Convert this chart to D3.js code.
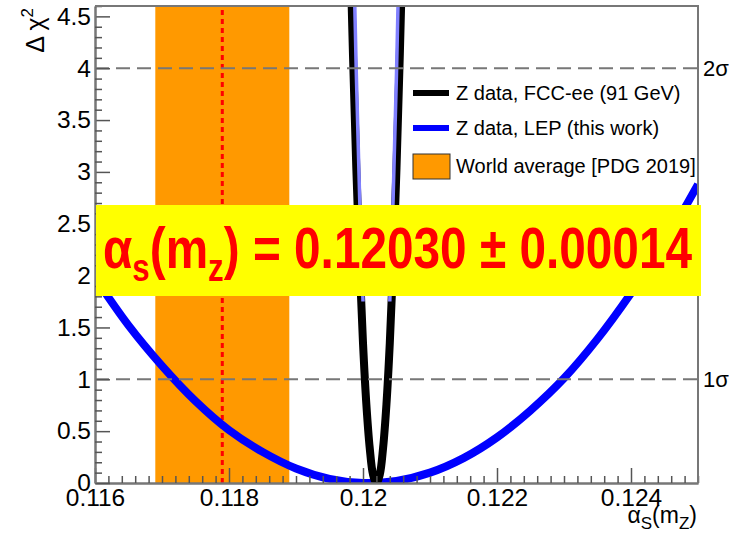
<!DOCTYPE html>
<html><head><meta charset="utf-8">
<script src="https://cdn.jsdelivr.net/npm/d3@7"></script>
<style>body{margin:0;background:#fff}svg{display:block}</style>
</head><body>
<svg id="c" width="729" height="541"></svg>
<script>
// ---- data ----
const xMajor = [0.116, 0.118, 0.120, 0.122, 0.124];
const xLabels = ["0.116", "0.118", "0.12", "0.122", "0.124"];
const yMajor = [0, 0.5, 1, 1.5, 2, 2.5, 3, 3.5, 4, 4.5];
const yLabels = ["0", "0.5", "1", "1.5", "2", "2.5", "3", "3.5", "4", "4.5"];
const sigmaLevels = [1, 4];
const sigmaLabels = ["1σ", "2σ"];
const worldAvg = 0.1179;
const worldAvgErr = 0.0010;
const lepX = [0.1160,0.1165,0.1170,0.1175,0.1180,0.1185,0.1190,0.1195,0.1200,0.1205,0.1210,0.1215,0.1220,0.1225,0.1230,0.1235,0.1240,0.1245,0.1250];
const lepChi2 = [1.98,1.52,1.13,0.79,0.51,0.30,0.14,0.04,0.00,0.02,0.10,0.24,0.44,0.70,1.01,1.39,1.83,2.32,2.88];
const fccX = [0.11980,0.11985,0.11990,0.11995,0.12000,0.12005,0.12010,0.12015,0.12020,0.12025,0.12030,0.12035,0.12040,0.12045,0.12050,0.12055,0.12060];
const fccChi2 = [5.41,4.14,3.04,2.11,1.35,0.76,0.34,0.08,0.00,0.08,0.34,0.76,1.35,2.11,3.04,4.14,5.41];
const innerLeftX = [0.11980,0.11985,0.11990,0.11995,0.12000];
const innerLeftChi2 = [7.00,5.40,3.95,2.75,1.75];
const innerRightX = [0.12040,0.12045,0.12050,0.12055,0.12060];
const innerRightChi2 = [1.75,2.75,3.95,5.40,7.00];
const legendLabels = ["Z data, FCC-ee (91 GeV)", "Z data, LEP (this work)", "World average [PDG 2019]"];
const resultValue = "0.12030";
const resultError = "0.00014";

// ---- chart ----
const svg = d3.select("#c");
const FONT = "'Liberation Sans', Arial, Helvetica, sans-serif";
const x = d3.scaleLinear().domain([0.116, 0.125]).range([95, 698]);
const y = d3.scaleLinear().domain([0, 4.6]).range([483, 6]);

svg.append("defs").append("clipPath").attr("id", "clip")
  .append("rect").attr("x", x.range()[0]).attr("y", y.range()[1])
  .attr("width", x.range()[1] - x.range()[0]).attr("height", y.range()[0] - y.range()[1]);

const plot = svg.append("g").attr("clip-path", "url(#clip)");

// orange band
plot.append("rect")
  .attr("x", x(worldAvg - worldAvgErr)).attr("y", y(4.6))
  .attr("width", x(worldAvg + worldAvgErr) - x(worldAvg - worldAvgErr))
  .attr("height", y(0) - y(4.6)).attr("fill", "#ff9900");
// red dotted central value
plot.append("line")
  .attr("x1", x(worldAvg)).attr("x2", x(worldAvg))
  .attr("y1", y(0)).attr("y2", y(4.6))
  .attr("stroke", "#ff0000").attr("stroke-width", 3).attr("stroke-dasharray", "5,4");

const line = (xs, ys) => d3.line().x((d, i) => x(xs[i])).y((d, i) => y(ys[i])).curve(d3.curveCatmullRom)(xs);

plot.append("path").attr("d", line(lepX, lepChi2))
  .attr("fill", "none").attr("stroke", "#0000ff").attr("stroke-width", 8);
plot.append("path").attr("d", line(fccX, fccChi2))
  .attr("fill", "none").attr("stroke", "#000").attr("stroke-width", 8);
plot.append("path").attr("d", line(innerLeftX, innerLeftChi2))
  .attr("fill", "none").attr("stroke", "#8080ff").attr("stroke-width", 3.5);
plot.append("path").attr("d", line(innerRightX, innerRightChi2))
  .attr("fill", "none").attr("stroke", "#8080ff").attr("stroke-width", 3.5);

// sigma dashed lines
sigmaLevels.forEach((s, i) => {
  svg.append("line").attr("x1", x(0.116)).attr("x2", x(0.125))
    .attr("y1", y(s)).attr("y2", y(s))
    .attr("stroke", "#777").attr("stroke-width", 2).attr("stroke-dasharray", "14,7");
  svg.append("text").attr("x", 703).attr("y", y(s)).attr("dy", "0.35em")
    .attr("font-family", FONT).attr("font-size", 22).text(sigmaLabels[i]);
});

// axes
const xMinor = d3.range(0, 46).map(i => 0.116 + i * 0.0002).filter(v => !xMajor.some(m => Math.abs(m - v) < 1e-9));
const yMinor = d3.range(0, 47).map(i => i * 0.1).filter(v => !yMajor.some(m => Math.abs(m - v) < 1e-9));

svg.append("g").attr("transform", `translate(0,${y(0)})`)
  .call(d3.axisBottom(x).tickValues(xMajor).tickFormat((d, i) => xLabels[i]).tickSize(-15).tickSizeOuter(0).tickPadding(6));
svg.append("g").attr("transform", `translate(0,${y(0)})`)
  .call(d3.axisBottom(x).tickValues(xMinor).tickFormat("").tickSize(-7).tickSizeOuter(0));
svg.append("g").attr("transform", `translate(${x(0.116)},0)`)
  .call(d3.axisLeft(y).tickValues(yMajor).tickFormat((d, i) => yLabels[i]).tickSize(-15).tickSizeOuter(0).tickPadding(4));
svg.append("g").attr("transform", `translate(${x(0.116)},0)`)
  .call(d3.axisLeft(y).tickValues(yMinor).tickFormat("").tickSize(-7).tickSizeOuter(0));
svg.selectAll(".domain").attr("stroke", "#777").attr("stroke-width", 2);
svg.selectAll(".tick line").attr("stroke", "#555").attr("stroke-width", 1.5);
svg.selectAll(".tick text").attr("font-family", FONT).attr("font-size", 24.5).attr("fill", "#000");

// frame top/right
svg.append("path")
  .attr("d", `M${x(0.116)},${y(4.6)}H${x(0.125)}V${y(0)}`)
  .attr("fill", "none").attr("stroke", "#777").attr("stroke-width", 2);

// axis titles
const xt = svg.append("text").attr("x", 697).attr("y", 523).attr("text-anchor", "end")
  .attr("font-family", FONT).attr("font-size", 23);
xt.append("tspan").text("α");
xt.append("tspan").attr("font-size", 17).attr("dy", 6).text("S");
xt.append("tspan").attr("dy", -6).text("(m");
xt.append("tspan").attr("font-size", 17).attr("dy", 6).text("Z");
xt.append("tspan").attr("dy", -6).text(")");

const yt = svg.append("text").attr("transform", "translate(44,8) rotate(-90)")
  .attr("text-anchor", "end").attr("font-family", FONT).attr("font-size", 25);
yt.append("tspan").text("Δ χ");
yt.append("tspan").attr("font-size", 17).attr("dy", -11).text("2");

// legend
const leg = svg.append("g");
const rowY = [93, 128, 166];
leg.append("line").attr("x1", 413).attr("x2", 449).attr("y1", rowY[0]).attr("y2", rowY[0])
  .attr("stroke", "#000").attr("stroke-width", 6);
leg.append("line").attr("x1", 413).attr("x2", 449).attr("y1", rowY[1]).attr("y2", rowY[1])
  .attr("stroke", "#0000ff").attr("stroke-width", 6);
leg.append("rect").attr("x", 413).attr("y", rowY[2] - 12).attr("width", 37).attr("height", 25)
  .attr("fill", "#ff9900").attr("stroke", "#333").attr("stroke-width", 1);
legendLabels.forEach((t, i) => {
  leg.append("text").attr("x", 456).attr("y", rowY[i]).attr("dy", "0.36em")
    .attr("font-family", FONT).attr("font-size", 20).text(t);
});

// yellow result box
svg.append("rect").attr("x", 96).attr("y", 205).attr("width", 605).attr("height", 91).attr("fill", "#ffff00");
const rt = svg.append("text").attr("x", 103).attr("y", 268)
  .attr("font-family", "'Liberation Sans Narrow', 'Liberation Sans', Arial, sans-serif")
  .attr("font-weight", "bold").attr("font-size", 58).attr("fill", "#ff0000")
  .attr("textLength", 589).attr("lengthAdjust", "spacingAndGlyphs");
rt.append("tspan").text("α");
rt.append("tspan").attr("font-size", 38).attr("dy", 13).text("s");
rt.append("tspan").attr("dy", -13).text("(m");
rt.append("tspan").attr("font-size", 38).attr("dy", 13).text("z");
rt.append("tspan").attr("dy", -13).text(`) = ${resultValue} ± ${resultError}`);
</script>
</body></html>
